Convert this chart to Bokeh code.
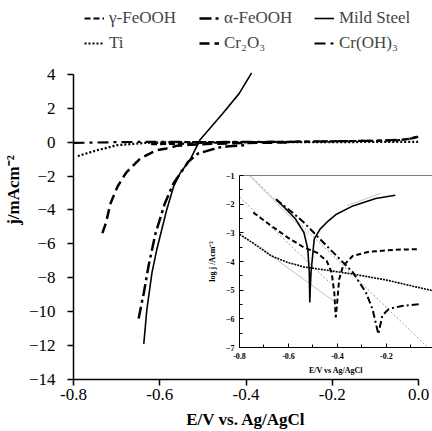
from bokeh.plotting import figure
from bokeh.models import Range1d, Legend, LegendItem, FixedTicker, Span, NumeralTickFormatter
from bokeh.layouts import column
from bokeh.embed import file_html
from bokeh.resources import INLINE

# ---------------- main plot data (E / V, j / mA cm^-2) ----------------
ms_E = [-0.637, -0.630, -0.618, -0.607, -0.584, -0.568, -0.553, -0.530, -0.507, -0.454, -0.416, -0.387]
ms_j = [-11.9, -9.9, -7.7, -6.35, -4.0, -2.63, -1.84, -1.06, 0.12, 1.69, 2.86, 4.08]

alpha_E = [-0.649, -0.637, -0.626, -0.610, -0.588, -0.568, -0.534, -0.511, -0.484, -0.461, -0.440, -0.400]
alpha_j = [-10.4, -8.9, -7.3, -5.4, -3.6, -2.43, -1.16, -0.67, -0.47, -0.31, -0.25, -0.18]

cr2o3_E = [-0.733, -0.725, -0.714, -0.698, -0.683, -0.676, -0.645, -0.637, -0.607, -0.584, -0.561, -0.530, -0.480, -0.400, -0.300]
cr2o3_j = [-5.37, -4.78, -3.6, -2.63, -2.0, -1.75, -0.96, -0.86, -0.47, -0.37, -0.22, -0.16, -0.10, -0.05, -0.02]

ti_E = [-0.790, -0.744, -0.698, -0.630, -0.550, -0.400, -0.200, 0.000]
ti_j = [-0.82, -0.47, -0.18, -0.04, 0.0, 0.0, 0.0, 0.02]

gamma_E = [-0.620, -0.550, -0.500, -0.400, -0.300, -0.200, -0.100, -0.050, -0.020, 0.000]
gamma_j = [-0.12, -0.10, -0.05, 0.0, 0.02, 0.05, 0.08, 0.10, 0.20, 0.35]

croh_E = [-0.800, -0.700, -0.600, -0.500, -0.400, -0.300, -0.200, -0.100, -0.030, 0.000]
croh_j = [-0.05, 0.0, 0.02, 0.0, 0.02, 0.02, 0.05, 0.08, 0.15, 0.30]

x_ticks = [-0.8, -0.6, -0.4, -0.2, 0.0]
y_ticks = [-14, -12, -10, -8, -6, -4, -2, 0, 2, 4]

labels = ["\u03b3-FeOOH", "\u03b1-FeOOH", "Mild Steel", "Ti", "Cr\u2082O\u2083", "Cr(OH)\u2083"]

# ---------------- inset data (E / V, log j / A cm^-2) ----------------
in_ms_E = [-0.651, -0.610, -0.571, -0.537, -0.521, -0.515, -0.513, -0.511, -0.508, -0.495, -0.471, -0.437, -0.404, -0.337, -0.244, -0.164]
in_ms_lj = [-1.83, -2.17, -2.52, -2.99, -3.57, -4.4, -5.43, -4.9, -4.38, -3.22, -2.87, -2.58, -2.35, -2.06, -1.80, -1.69]

in_dash_E = [-0.744, -0.671, -0.604, -0.537, -0.484, -0.444, -0.424, -0.413, -0.407, -0.400, -0.393, -0.377, -0.337, -0.271, -0.164, -0.064]
in_dash_lj = [-2.29, -2.75, -3.16, -3.51, -3.69, -3.98, -4.38, -5.08, -5.95, -5.31, -4.62, -4.15, -3.80, -3.66, -3.59, -3.57]

in_dd_E = [-0.651, -0.584, -0.537, -0.471, -0.404, -0.337, -0.284, -0.257, -0.233, -0.217, -0.191, -0.137, -0.064]
in_dd_lj = [-1.83, -2.29, -2.64, -3.22, -3.80, -4.38, -5.08, -5.66, -6.53, -5.89, -5.66, -5.55, -5.49]

in_ti_E = [-0.800, -0.737, -0.671, -0.604, -0.537, -0.471, -0.337, -0.204, -0.011]
in_ti_lj = [-3.05, -3.40, -3.80, -4.03, -4.19, -4.27, -4.44, -4.64, -5.02]

# Tafel fit lines
taf_a_E = [-0.760, -0.520]
taf_a_lj = [-1.0, -3.07]
taf_b_E = [-0.757, -0.031]
taf_b_lj = [-1.0, -7.0]
taf_c_E = [-0.800, -0.430]
taf_c_lj = [-1.75, -4.75]
taf_d_E = [-0.700, -0.417]
taf_d_lj = [-3.62, -5.37]
taf_e_E = [-0.360, -0.224]
taf_e_lj = [-2.05, -1.62]

in_x_ticks = [-0.8, -0.6, -0.4, -0.2, 0.0]
in_x_minor = [-0.8, -0.7, -0.6, -0.5, -0.4, -0.3, -0.2, -0.1, 0.0]
in_y_ticks = [-7, -6, -5, -4, -3, -2, -1]
in_y_minor = [-6.5, -5.5, -4.5, -3.5, -2.5, -1.5]

SERIF = "Liberation Serif"

# ---------------- main figure ----------------
# frame runs to the top of the canvas (room for the legend); axis drawn only from -14 to 4
Y_MIN, Y_MAX = -14, 4
FRAME_TOP_PX, AXIS_TOP_PX, FRAME_BOTTOM_PX = 0, 74, 380
y_end = Y_MAX + (AXIS_TOP_PX - FRAME_TOP_PX) * (Y_MAX - Y_MIN) / (FRAME_BOTTOM_PX - AXIS_TOP_PX)

p = figure(width=432, height=431, x_range=Range1d(-0.8, 0.0), y_range=Range1d(Y_MIN, y_end),
           output_backend="svg", toolbar_location=None,
           min_border_left=69, min_border_right=14, min_border_top=0, min_border_bottom=51)
p.outline_line_color = None
p.grid.visible = False
p.background_fill_color = "white"

r_gamma = p.line(gamma_E, gamma_j, line_color="black", line_width=2.2, line_dash="6 3")
r_alpha = p.line(alpha_E, alpha_j, line_color="black", line_width=2.5, line_dash="12 4 3 4")
r_ms = p.line(ms_E, ms_j, line_color="black", line_width=1.6)
r_ti = p.line(ti_E, ti_j, line_color="black", line_width=2.2, line_dash="2 2")
r_cr2o3 = p.line(cr2o3_E, cr2o3_j, line_color="black", line_width=2.5, line_dash="10 5")
r_croh = p.line(croh_E, croh_j, line_color="black", line_width=2.2, line_dash="11 5 3 5")

for ax in (p.xaxis[0], p.yaxis[0]):
    ax.axis_line_color = "black"
    ax.axis_line_width = 1.5
    ax.major_tick_line_color = "black"
    ax.major_tick_line_width = 1.5
    ax.major_tick_out = 6
    ax.major_tick_in = 0
    ax.minor_tick_line_color = None
    ax.major_label_text_font = SERIF
    ax.major_label_text_font_size = "17px"
    ax.major_label_text_color = "black"
    ax.axis_label_text_font = SERIF
    ax.axis_label_text_font_style = "bold"
    ax.axis_label_text_font_size = "17px"
    ax.axis_label_text_color = "black"

p.xaxis[0].ticker = FixedTicker(ticks=x_ticks)
p.xaxis[0].formatter = NumeralTickFormatter(format="0.0")
p.xaxis[0].axis_label = "E/V vs. Ag/AgCl"
p.xaxis[0].major_label_standoff = 3
p.xaxis[0].axis_label_standoff = 7
p.yaxis[0].ticker = FixedTicker(ticks=y_ticks)
p.yaxis[0].bounds = (Y_MIN, Y_MAX)
p.yaxis[0].axis_label = "j/mAcm\u207b\u00b2"
p.yaxis[0].major_label_standoff = 12
p.yaxis[0].axis_label_standoff = 3

renderers = [r_gamma, r_alpha, r_ms, r_ti, r_cr2o3, r_croh]
legend = Legend(items=[LegendItem(label=l, renderers=[r]) for l, r in zip(labels, renderers)],
                location=(11, 326), orientation="horizontal", ncols=3,
                padding=0, margin=0, spacing=5, glyph_width=20, glyph_height=20,
                label_standoff=5, label_width=85, label_height=20,
                label_text_font=SERIF, label_text_font_size="17px",
                border_line_color=None, background_fill_alpha=0)
p.add_layout(legend, "center")

# ---------------- inset figure ----------------
# (the column aligns plot borders: inset borders follow p's 69 / 14 px)
inset = figure(width=280, height=206, x_range=Range1d(-0.8, -0.012), y_range=Range1d(-7, -1),
               output_backend="svg", toolbar_location=None,
               min_border_left=69, min_border_right=14, min_border_top=4, min_border_bottom=30,
               styles={"position": "absolute", "left": "166px", "top": "171px", "z-index": "10"})
inset.outline_line_color = None
inset.grid.visible = False
inset.border_fill_alpha = 0
inset.background_fill_color = "white"

gray_solid = dict(line_color="#c4c4c4", line_width=1)
gray_dot = dict(line_color="#9a9a9a", line_width=1, line_dash="2 2")
inset.line(taf_a_E, taf_a_lj, **gray_solid)
inset.line(taf_b_E, taf_b_lj, **gray_dot)
inset.line(taf_c_E, taf_c_lj, **gray_dot)
inset.line(taf_d_E, taf_d_lj, **gray_solid)
inset.line(taf_e_E, taf_e_lj, **gray_solid)

inset.line(in_ti_E, in_ti_lj, line_color="black", line_width=1.6, line_dash="2 1")
inset.line(in_dash_E, in_dash_lj, line_color="black", line_width=2, line_dash="5 3")
inset.line(in_dd_E, in_dd_lj, line_color="black", line_width=2, line_dash="7 3 2 3")
inset.line(in_ms_E, in_ms_lj, line_color="black", line_width=1.6)

inset.add_layout(Span(location=-1, dimension="width", line_color="black", line_width=1))

for ax in (inset.xaxis[0], inset.yaxis[0]):
    ax.axis_line_color = "black"
    ax.axis_line_width = 1
    ax.major_tick_line_color = "black"
    ax.minor_tick_line_color = "black"
    ax.major_tick_in = 4
    ax.major_tick_out = 0
    ax.minor_tick_in = 3
    ax.minor_tick_out = 0
    ax.major_label_text_font = SERIF
    ax.major_label_text_font_size = "8px"
    ax.major_label_text_color = "black"
    ax.major_label_text_font_style = "bold"
    ax.axis_label_text_font = SERIF
    ax.axis_label_text_font_size = "8px"
    ax.axis_label_text_font_style = "bold"
    ax.axis_label_text_color = "black"

inset.xaxis[0].ticker = FixedTicker(ticks=in_x_ticks, minor_ticks=in_x_minor)
inset.xaxis[0].formatter = NumeralTickFormatter(format="0.0")
inset.xaxis[0].axis_label = "E/V vs Ag/AgCl"
inset.xaxis[0].major_label_standoff = 5
inset.xaxis[0].axis_label_standoff = 4
inset.yaxis[0].ticker = FixedTicker(ticks=in_y_ticks, minor_ticks=in_y_minor)
inset.yaxis[0].axis_label = "log j /Acm\u207b\u00b2"
inset.yaxis[0].major_label_standoff = 5
inset.yaxis[0].axis_label_standoff = 6

root = column(p, inset, styles={"position": "relative", "overflow": "hidden"})
open("out.html", "w").write(file_html(root, INLINE))
